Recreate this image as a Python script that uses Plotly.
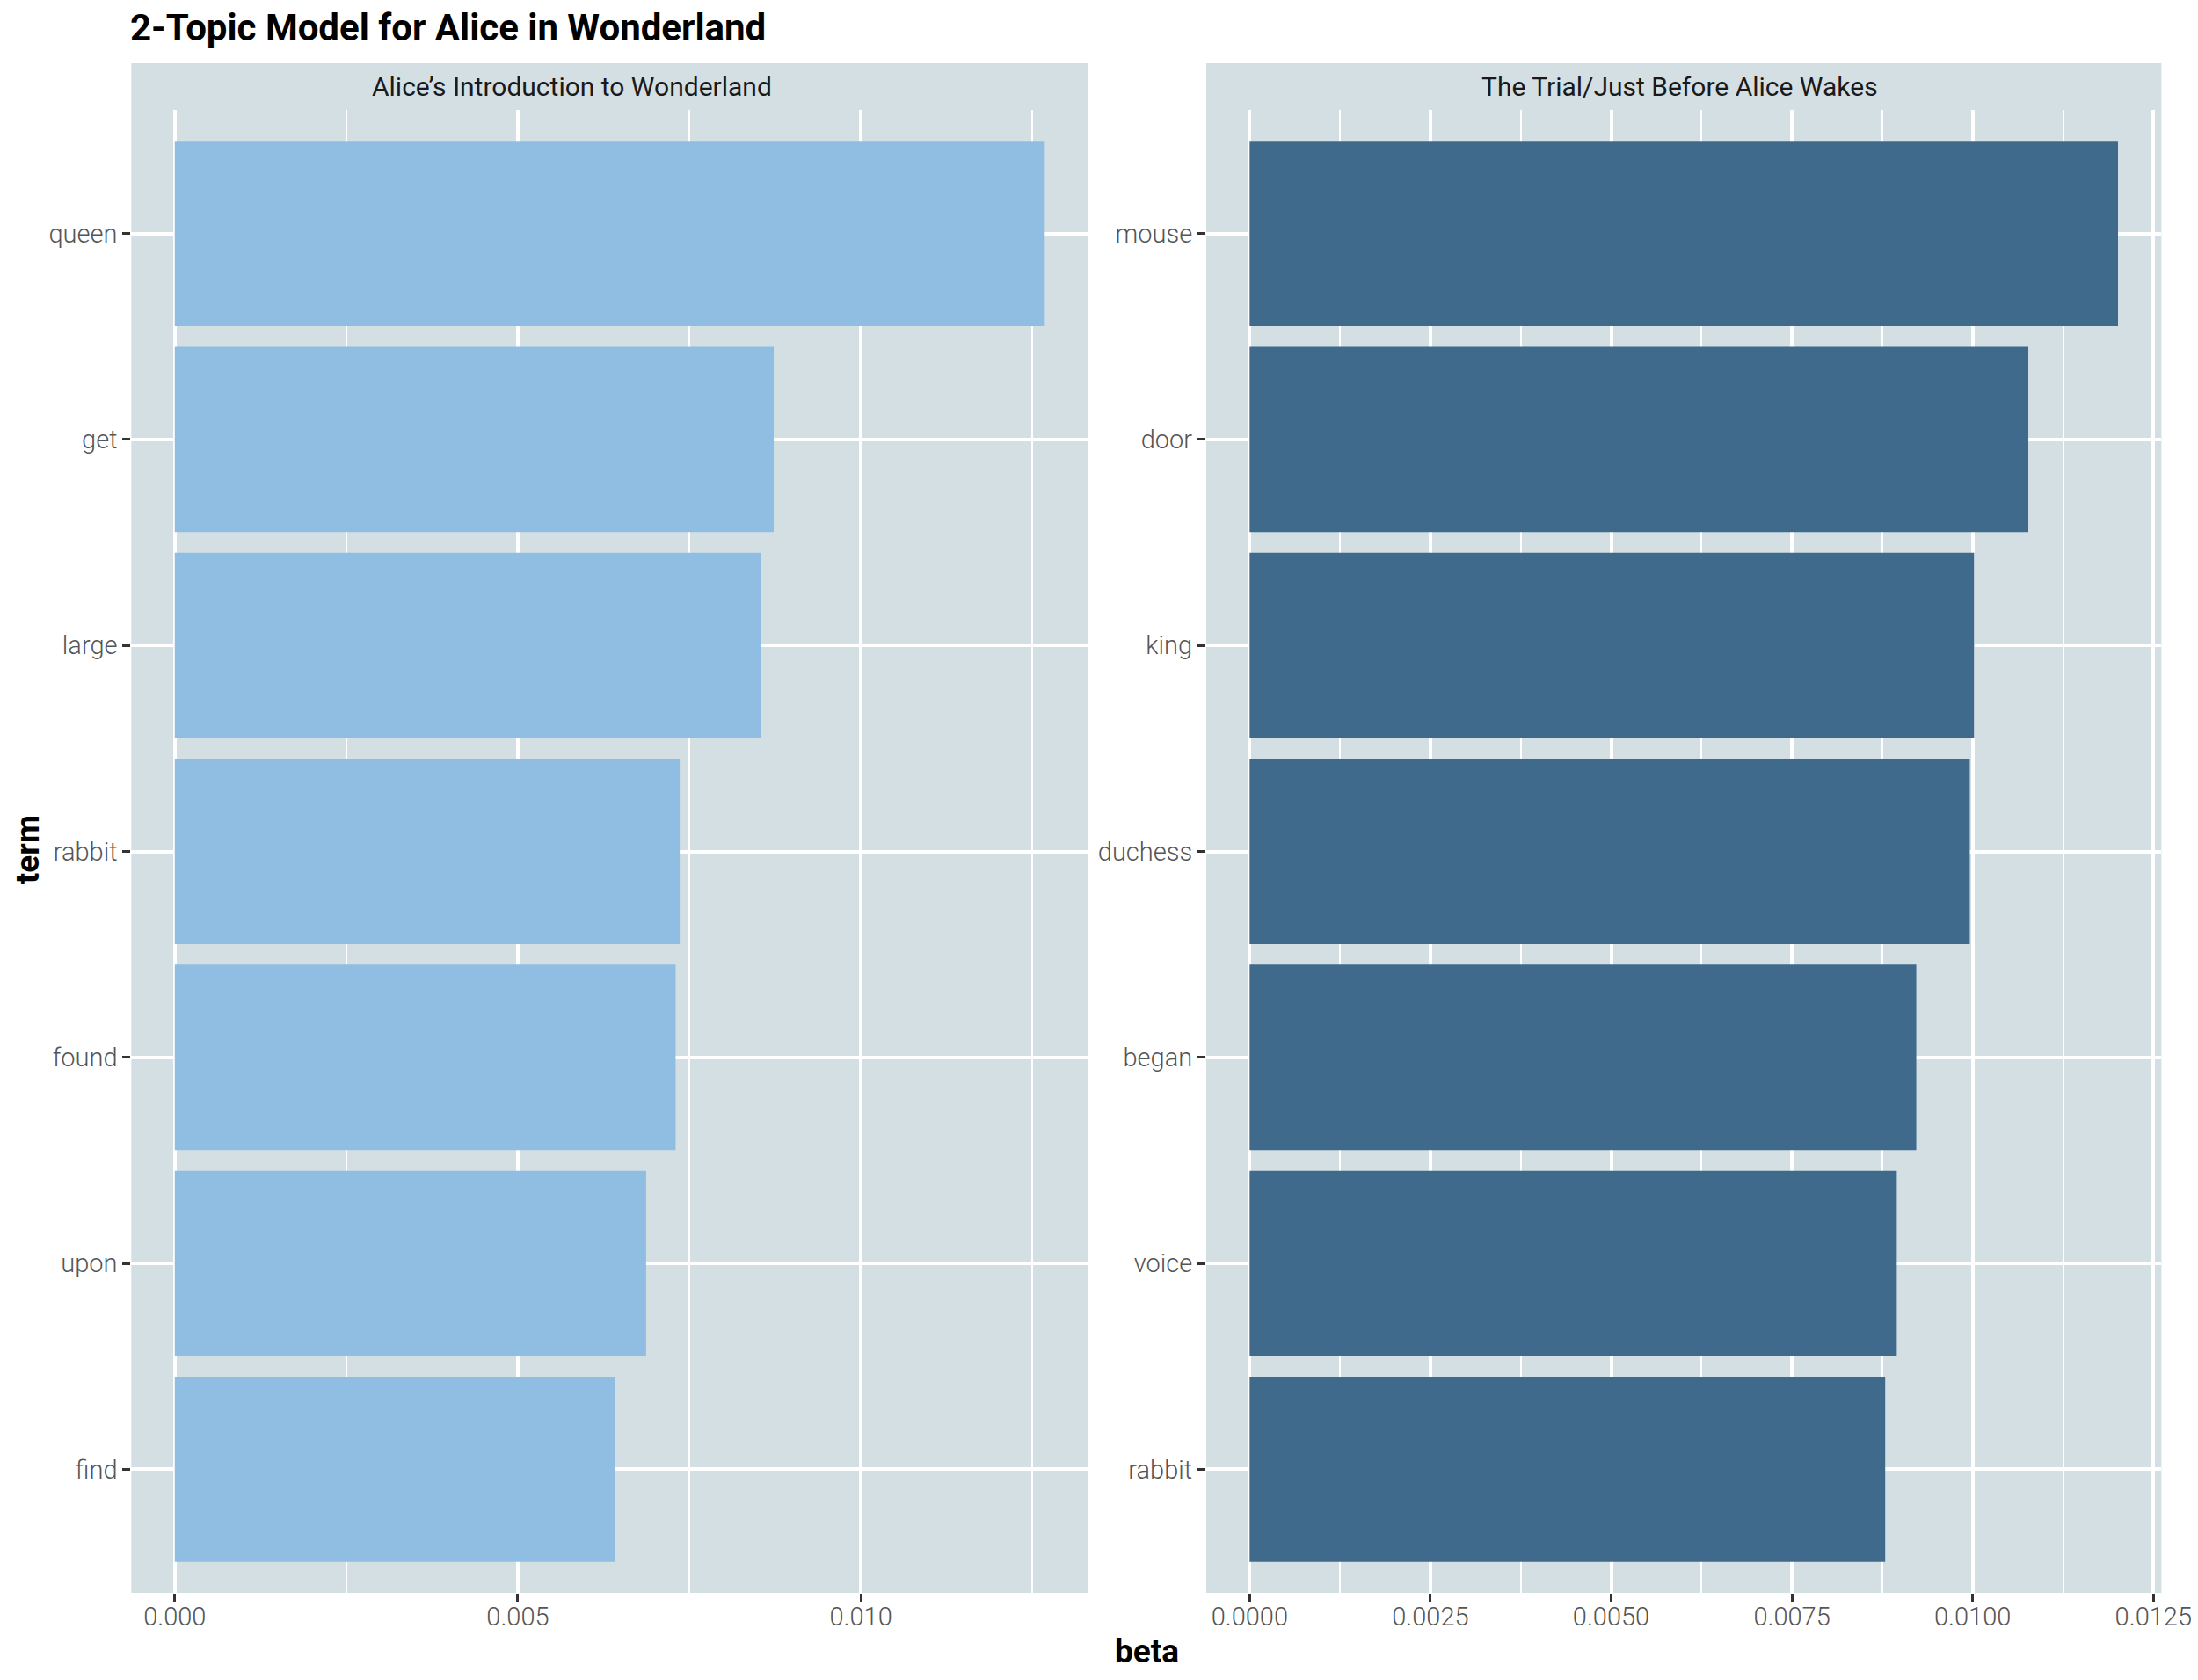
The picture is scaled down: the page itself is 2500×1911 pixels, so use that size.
import plotly.graph_objects as go

# ---- data ----
terms_topic1 = ["find", "upon", "found", "rabbit", "large", "get", "queen"]
beta_topic1 = [0.00642, 0.00687, 0.00730, 0.00736, 0.00855, 0.00873, 0.01268]

terms_topic2 = ["rabbit", "voice", "began", "duchess", "king", "door", "mouse"]
beta_topic2 = [0.00879, 0.00895, 0.00922, 0.00996, 0.01002, 0.01077, 0.01201]

topic_titles = ["Alice\u2019s Introduction to Wonderland", "The Trial/Just Before Alice Wakes"]
title_text = "2-Topic Model for Alice in Wonderland"

# page body has an 8px margin; the capture squeezes the page horizontally by ~0.985
OFF = 8
SX = 0.9852
W, H = 2522, 1911 - 2 * OFF
def px(x):
    return (x / SX - OFF) / W
def py(y):
    return 1 - (y - OFF) / H

PANEL = "#D4DFE4"
C1 = "#8FBEE2"
C2 = "#3F6A8C"
FONT = "Roboto"

fig = go.Figure()
fig.add_trace(go.Bar(x=beta_topic1, y=terms_topic1, orientation="h", marker=dict(color=C1, line=dict(width=0)),
                     width=0.9, xaxis="x", yaxis="y", showlegend=False))
fig.add_trace(go.Bar(x=beta_topic2, y=terms_topic2, orientation="h", marker=dict(color=C2, line=dict(width=0)),
                     width=0.9, xaxis="x2", yaxis="y2", showlegend=False))

tickfont = dict(family=FONT, size=29, color="#555555", weight=300)

def xax(domain, rng, dtick, fmt, anchor):
    return dict(domain=domain, range=rng, dtick=dtick, tick0=0, tickformat=fmt, anchor=anchor,
                showgrid=True, gridcolor="white", gridwidth=3.5, zeroline=False,
                minor=dict(showgrid=True, gridcolor="white", gridwidth=1.8, dtick=dtick / 2, tick0=0),
                ticks="outside", ticklen=9, tickwidth=3, tickcolor="#333333",
                ticklabelstandoff=-8,
                tickfont=tickfont, showline=False, fixedrange=True)

def yax(domain, cats, anchor):
    return dict(domain=domain, type="category", categoryorder="array", categoryarray=cats,
                range=[-0.6, len(cats) - 0.4], anchor=anchor,
                showgrid=True, gridcolor="white", gridwidth=3.5, zeroline=False,
                ticks="outside", ticklen=9, tickwidth=3, tickcolor="#333333",
                tickfont=tickfont, showline=False, fixedrange=True)

ydom = [py(1812), py(125)]
m1 = max(beta_topic1)
m2 = max(beta_topic2)
fig.update_layout(
    width=W, height=H, autosize=False,
    margin=dict(l=0, r=0, t=0, b=0),
    paper_bgcolor="white", plot_bgcolor=PANEL,
    bargap=0.1,
    xaxis=xax([px(149), px(1236)], [-0.05 * m1, 1.05 * m1], 0.005, ".3f", "y"),
    yaxis=yax(ydom, terms_topic1, "x"),
    xaxis2=xax([px(1370), px(2455)], [-0.05 * m2, 1.05 * m2], 0.0025, ".4f", "y2"),
    yaxis2=yax(ydom, terms_topic2, "x2"),
)

# strips
for (x0, x1, tx, txt) in [(149, 1236, 650, topic_titles[0]), (1370, 2455, 1908, topic_titles[1])]:
    fig.add_shape(type="rect", xref="paper", yref="paper", x0=px(x0), x1=px(x1), y0=py(125), y1=py(72),
                  fillcolor=PANEL, line=dict(width=0), layer="below")
    fig.add_annotation(xref="paper", yref="paper", x=px(tx), y=py(99), text=txt, showarrow=False,
                       xanchor="center", yanchor="middle", font=dict(family=FONT, size=30, color="#1A1A1A"))

# title
fig.add_annotation(xref="paper", yref="paper", x=px(146), y=py(32), text="<b>" + title_text + "</b>",
                   showarrow=False, xanchor="left", yanchor="middle",
                   font=dict(family=FONT, size=42, color="black"))
# axis titles
fig.add_annotation(xref="paper", yref="paper", x=px(1303), y=py(1878), text="<b>beta</b>",
                   showarrow=False, xanchor="center", yanchor="middle",
                   font=dict(family=FONT, size=37, color="black"))
fig.add_annotation(xref="paper", yref="paper", x=px(32), y=py(966), text="<b>term</b>", textangle=-90,
                   showarrow=False, xanchor="center", yanchor="middle",
                   font=dict(family=FONT, size=37, color="black"))

fig.write_html("out.html", config={"responsive": False})
